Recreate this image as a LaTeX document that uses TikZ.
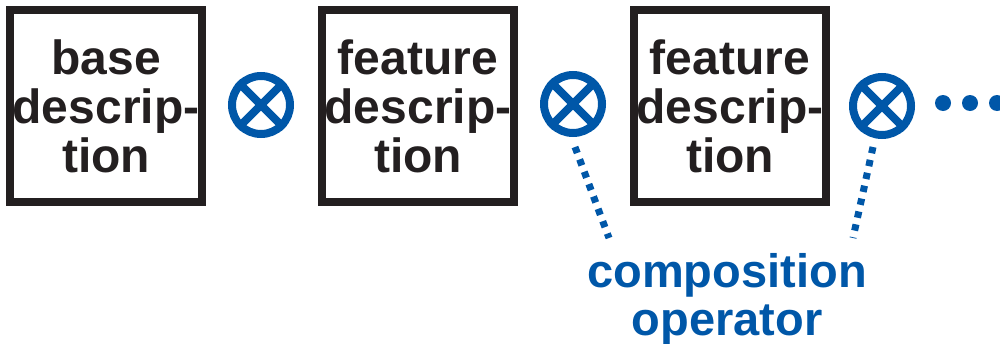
\documentclass[tikz,border=0pt]{standalone}
\usepackage{fontspec}
\setmainfont{Liberation Sans}
\definecolor{opblue}{RGB}{0,87,168}
\definecolor{boxblack}{RGB}{35,31,32}
\begin{document}
\begin{tikzpicture}[x=0.5pt,y=-0.5pt,
  descbox/.style={draw=boxblack,line width=4pt,minimum size=96pt,inner sep=0pt,
    align=center,font=\fontsize{24}{24.5}\selectfont\bfseries,text=boxblack},
  opcirc/.style={draw=opblue,line width=4pt,circle,minimum size=29pt,inner sep=0pt},
  opcross/.style={draw=opblue,line width=4pt},
  dotlink/.style={draw=opblue,line width=3.5pt,dash pattern=on 3.2pt off 3.4pt},
  moredot/.style={fill=opblue,circle,minimum size=8pt,inner sep=0pt},
  oplabel/.style={align=center,text=opblue,font=\fontsize{23.5}{24}\selectfont\bfseries}]
\useasboundingbox (0,0) rectangle (1000,343);
\node[descbox] (b1) at (106,106) {base\\descrip-\\tion};
\node[descbox] (b2) at (418,106) {feature\\descrip-\\tion};
\node[descbox] (b3) at (730,106) {feature\\descrip-\\tion};
\foreach \n/\x/\y in {c1/261/105, c2/573/104, c3/882/106}{
  \node[opcirc] (\n) at (\x,\y) {};
  \draw[opcross] (\n.45) -- (\n.225);
  \draw[opcross] (\n.135) -- (\n.315);
}
\node[moredot] (m1) at (943,103) {};
\node[moredot] (m2) at (970,103) {};
\node[moredot] (m3) at (997,103) {};
\node[oplabel] (lab) at (727,299) {composition\\operator};
\coordinate (d2s) at (575,147);
\coordinate (d2e) at (609,238);
\coordinate (d3s) at (873,147);
\coordinate (d3e) at (853,238);
\draw[dotlink] (d2s) -- (d2e);
\draw[dotlink] (d3s) -- (d3e);
\end{tikzpicture}
\end{document}
